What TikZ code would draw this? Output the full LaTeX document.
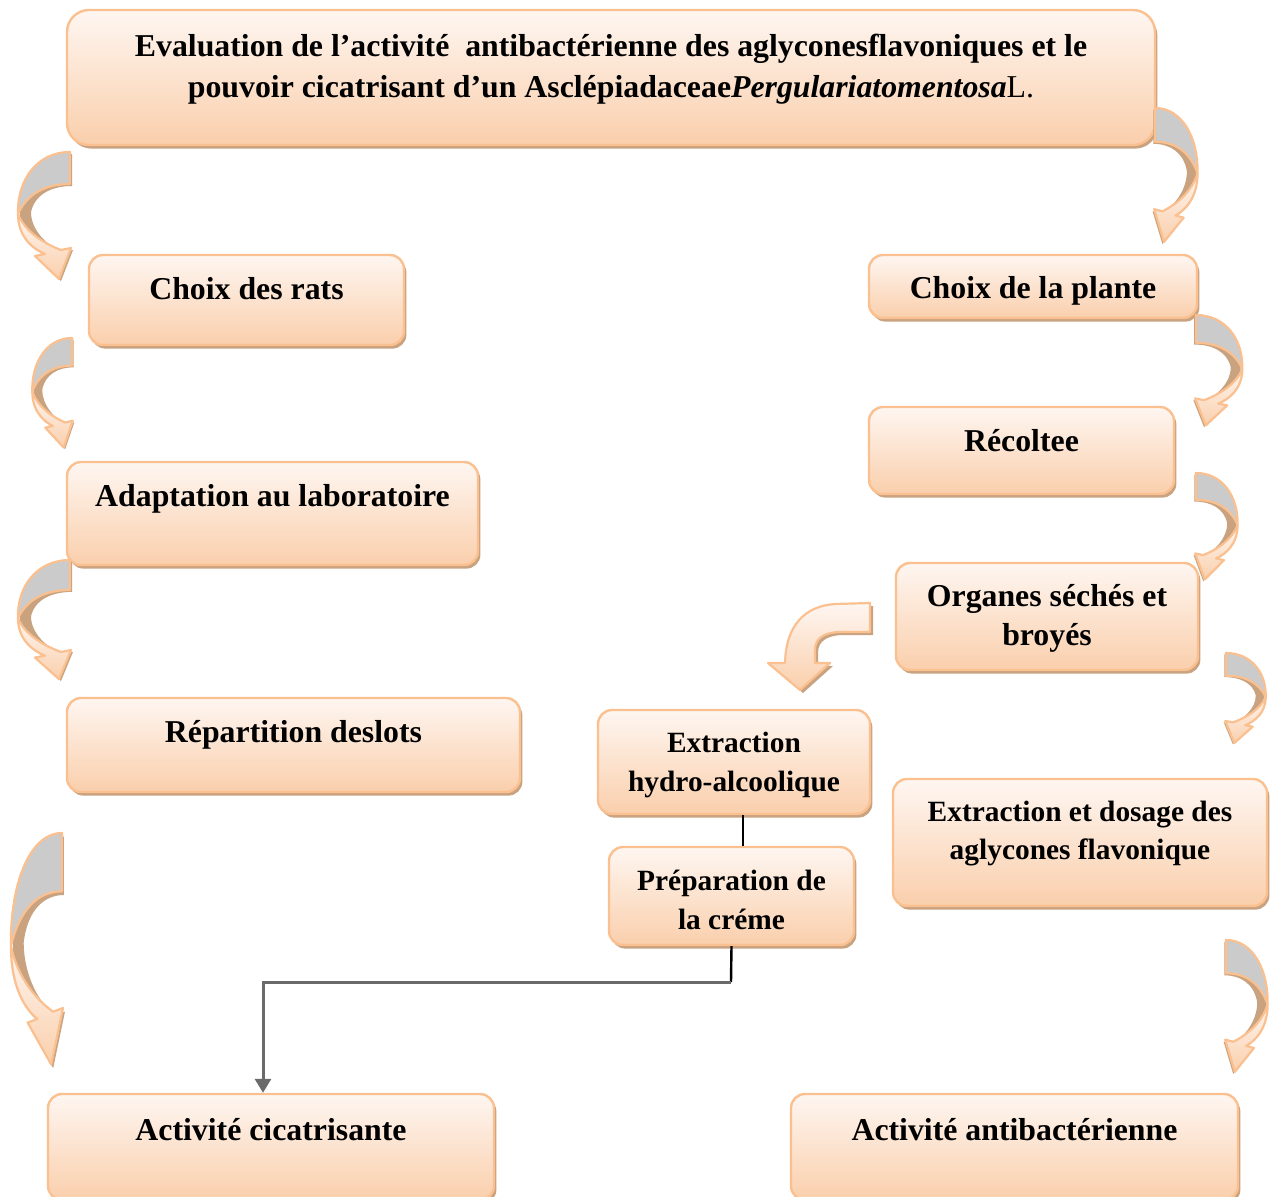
\documentclass[tikz,border=0pt]{standalone}
\usepackage{fontspec}
\setmainfont{Liberation Serif}
\usepackage{tikz}
\usetikzlibrary{positioning, arrows.meta, shadows}
\definecolor{boxline}{HTML}{FAC090}
\definecolor{boxtop}{HTML}{FEF6F1}
\definecolor{boxbot}{HTML}{FACFAC}
\definecolor{shadebrown}{HTML}{C9A27F}
\definecolor{ribbongray}{HTML}{CBCBCB}
\definecolor{linkgray}{HTML}{6A6A6A}

% curled ribbon arrow, drawn in a 55 x 130 frame
\newcommand{\twistarrow}[4]{%
  \begin{scope}[shift={(#1,#2)}, xscale=#3, yscale=#4]
    \fill[shadebrown, shift={(2,2)}] (55,0) .. controls (22,0) and (2,28) .. (3,62)
      .. controls (3,85) and (18,97) .. (30,102) -- (20,104) -- (44,127) -- (56,96) -- (46,98)
      .. controls (30,92) and (14,76) .. (14,58) .. controls (18,40) and (35,32) .. (55,32) -- cycle;
    \draw[ribbon, fill=ribbongray] (55,0) .. controls (22,0) and (2,28) .. (3,62)
      .. controls (12,42) and (30,32) .. (55,32) -- cycle;
    \draw[ribbon, top color=boxtop, bottom color=boxbot] (3,62)
      .. controls (3,85) and (18,97) .. (30,102) -- (20,104) -- (44,127) -- (56,96) -- (46,98)
      .. controls (30,92) and (10,80) .. (3,62) -- cycle;
  \end{scope}}

\begin{document}
\begin{tikzpicture}[x=0.5pt, y=-0.5pt,
  box/.style={draw=boxline, line width=1.2pt, rounded corners=7pt,
    top color=boxtop, bottom color=boxbot,
    drop shadow={shadow xshift=1.2pt, shadow yshift=-1.8pt, fill=shadebrown, opacity=1}},
  lbl/.style={font=\bfseries\fontsize{15.9}{19.5}\selectfont, align=center, inner sep=0pt},
  lblsmall/.style={lbl, font=\bfseries\fontsize{14.7}{19.2}\selectfont},
  ribbon/.style={draw=boxline, line width=1.1pt, line join=round}]
\useasboundingbox (0,0) rectangle (1270,1196);

% boxes
\node[box, rounded corners=11pt, minimum width=544pt, minimum height=67.5pt] (eval) at (611,77.5) {};
\node[box, minimum width=157.5pt, minimum height=45pt] (rats) at (246.5,300) {};
\node[box, minimum width=164pt, minimum height=31.5pt] (plante) at (1033,286.5) {};
\node[box, minimum width=152.5pt, minimum height=43.5pt] (recolte) at (1021.5,450.5) {};
\node[box, minimum width=205.5pt, minimum height=51.5pt] (adapt) at (272.5,513.5) {};
\node[box, minimum width=151pt, minimum height=53.5pt] (organes) at (1047,616.5) {};
\node[box, minimum width=226.5pt, minimum height=47pt] (repart) at (293.5,745) {};
\node[box, minimum width=136pt, minimum height=52pt] (hydro) at (734,762) {};
\node[box, minimum width=122.5pt, minimum height=49pt] (creme) at (731.5,896) {};
\node[box, minimum width=187pt, minimum height=63.5pt] (dosage) at (1080,842.5) {};
\node[box, minimum width=223pt, minimum height=53pt] (cicat) at (271,1147) {};
\node[box, minimum width=223.5pt, minimum height=53pt] (antibac) at (1014.5,1147) {};

% texts
\node[lbl, font=\bfseries\fontsize{15.9}{20.5}\selectfont] (eval-t) at ([yshift=-30pt]eval.north)
  {Evaluation de l’activité~ antibactérienne des aglyconesflavoniques et le\\
   pouvoir cicatrisant d’un Asclépiadaceae\textit{Pergulariatomentosa}\textmd{L.}};
\node[lbl] (rats-t) at ([yshift=-17.5pt]rats.north) {Choix des rats};
\node[lbl] (plante-t) at ([yshift=-18.5pt]plante.north) {Choix de la plante};
\node[lbl] (recolte-t) at ([yshift=-17.5pt]recolte.north) {Récoltee};
\node[lbl] (adapt-t) at ([yshift=-19pt]adapt.north) {Adaptation au laboratoire};
\node[lbl] (organes-t) at ([yshift=-28.5pt]organes.north) {Organes séchés et\\broyés};
\node[lbl] (repart-t) at ([yshift=-19pt]repart.north) {Répartition deslots};
\node[lblsmall] (hydro-t) at ([yshift=-28pt]hydro.north) {Extraction\\hydro-alcoolique};
\node[lblsmall] (creme-t) at ([yshift=-27pt]creme.north) {Préparation de\\la créme};
\node[lblsmall] (dosage-t) at ([yshift=-28pt]dosage.north) {Extraction et dosage des\\aglycones flavonique};
\node[lbl] (cicat-t) at ([yshift=-18.5pt]cicat.north) {Activité cicatrisante};
\node[lbl] (antibac-t) at ([yshift=-18.5pt]antibac.north) {Activité antibactérienne};

% connectors
\coordinate (bend) at (731,982);
\draw[line width=1.2pt] ([xshift=4.5pt]hydro.south) -- ([xshift=4.5pt]hydro.south |- creme.north);
\draw[line width=1.2pt] (creme.south) -- (bend);
\draw[linkgray, line width=1.5pt, -{Triangle[length=7pt, width=8pt]}] (bend) -| ([xshift=-4pt]cicat.north);

% curled arrows
\foreach \ax/\ay/\sx/\sy in {15/152/1/1, 1200/108/-0.818/1.054, 30/338/0.764/0.862,
    1245/315/-0.891/0.869, 1240/473/-0.8/0.838, 15/560/1/0.938,
    1268/653/-0.764/0.708, 8/833/0.982/1.823, 1270/940/-0.8/1.038}
  {\twistarrow{\ax}{\ay}{\sx}{\sy}}

% bent arrow towards the extraction
\fill[shadebrown, shift={(3,3)}] (870,603) -- (835,604) .. controls (805,606) and (786,625) .. (785,663)
  -- (768,663) -- (800,690) -- (830,663) -- (815,663) -- (815,650)
  .. controls (815,638) and (824,633) .. (838,632) -- (870,632) -- cycle;
\draw[ribbon, top color=boxtop, bottom color=boxbot] (870,603) -- (835,604)
  .. controls (805,606) and (786,625) .. (785,663)
  -- (768,663) -- (800,690) -- (830,663) -- (815,663) -- (815,650)
  .. controls (815,638) and (824,633) .. (838,632) -- (870,632) -- cycle;

\end{tikzpicture}
\end{document}
